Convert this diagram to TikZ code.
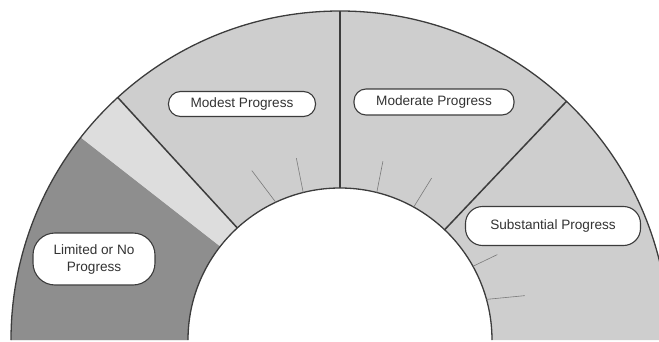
\documentclass[tikz,border=0pt]{standalone}
\usepackage{fontspec}
\setmainfont{Liberation Sans}
\usepackage{tikz}

\definecolor{bandgray}{HTML}{CECECE}
\definecolor{stripgray}{HTML}{DDDDDD}
\definecolor{limitgray}{HTML}{8E8E8E}
\definecolor{linegray}{HTML}{3C3C3C}
\definecolor{tickgray}{HTML}{7A7A7A}
\definecolor{textgray}{HTML}{333333}

\tikzset{
  edge/.style={draw=linegray, line width=1.3pt},
  divider/.style={draw=linegray, line width=1.5pt},
  tickline/.style={draw=tickgray, line width=0.6pt},
  stagebox/.style={draw=linegray, line width=1.1pt, fill=white, text=textgray,
    align=center, inner sep=0pt, font=\fontsize{13.6}{17}\selectfont}
}

\begin{document}
\begin{tikzpicture}[x=1pt,y=1pt]
    \useasboundingbox (-340,-1) rectangle (319,340);

    % draw band
    \fill[bandgray] (0:329) arc (0:180:329) -- (180:152) arc (180:0:152) -- cycle;
    \fill[limitgray] (142:329) arc (142:180:329) -- (180:152) arc (180:142:152) -- cycle;
    \fill[stripgray] (132.5:329) arc (132.5:142:329) -- (142:152) arc (142:132.5:152) -- cycle;

    % draw arcs
    \draw[edge] (0:329) arc (0:180:329);
    \draw[edge] (0:152) arc (0:180:152);

    % draw dividers
    \foreach \a in {46.5,90,132.5}
      \draw[divider] (\a:152) -- (\a:329);

    % draw ticks
    \foreach \a/\b/\r in {115/117.5/191, 104/103.5/187, 76/76.5/184,
                          61/60.5/186, 29/28.5/179, 15.5/13.5/190}
      \draw[tickline] (\a:152) -- (\b:\r);

    % draw labels
    \node[stagebox, minimum width=147pt, minimum height=25pt, rounded corners=12pt]
      (modest) at (-98,236) {Modest Progress};
    \node[stagebox, minimum width=160pt, minimum height=26pt, rounded corners=12pt]
      (moderate) at (94,238) {Moderate Progress};
    \node[stagebox, minimum width=175pt, minimum height=39pt, rounded corners=17pt]
      (substantial) at (213,114) {Substantial Progress};
    \node[stagebox, minimum width=122pt, minimum height=52pt, rounded corners=22pt]
      (limited) at (-246,81) {Limited or No\\Progress};

\end{tikzpicture}
\end{document}
